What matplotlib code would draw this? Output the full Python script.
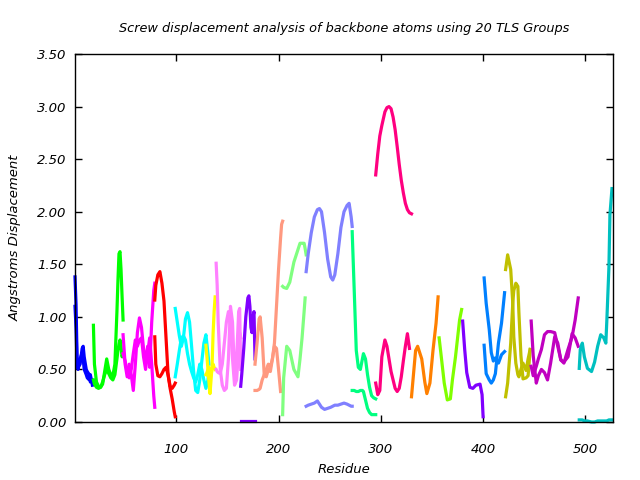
import numpy as np
import matplotlib
matplotlib.use("Agg")
import matplotlib.pyplot as plt

nan = np.nan

# one residue list and two displacement curves per TLS group
g01_res = [1, 2, 3, 4, 6, 8, 9, 10, 12, 13, 15, 16, 18]
g01_val = [[1.38, 1.12, 0.62, 0.52, 0.55, 0.70, 0.72, 0.62, 0.50, 0.48, 0.45, 0.38, 0.40],
           [1.10, 0.90, 0.55, 0.50, 0.60, 0.66, 0.60, 0.50, 0.45, 0.42, 0.40, 0.45, 0.35]]

g02_res = [19, 20, 22, 24, 26, 28, 30, 32, 34, 36, 38, 40, 42, 43, 44, 45, 46, 47, 48]
g02_val = [[0.92, 0.55, 0.38, 0.34, 0.33, 0.36, 0.48, 0.60, 0.50, 0.45, 0.44, 0.55, 1.05, 1.35, 1.60, 1.62, 1.45, 1.20, 0.97],
           [0.40, 0.36, 0.33, 0.32, 0.33, 0.38, 0.45, 0.50, 0.46, 0.42, 0.40, 0.45, 0.60, 0.68, 0.74, 0.78, 0.72, 0.62, 0.65]]

g03_res = [48, 50, 52, 54, 56, 58, 60, 62, 64, 66, 68, 70, 72, 74, 76, 77, 78, 79]
g03_val = [[0.83, 0.55, 0.43, 0.55, 0.45, 0.30, 0.55, 0.85, 0.99, 0.90, 0.70, 0.56, 0.72, 0.52, 0.95, 1.10, 1.25, 1.32],
           [0.65, 0.58, 0.48, 0.42, 0.50, 0.65, 0.78, 0.72, 0.78, 0.80, 0.62, 0.50, 0.65, 0.80, 0.55, 0.40, 0.25, 0.14]]

g04_res = [79, 80, 82, 84, 86, 88, 90, 92, 94, 96, 98, 99]
g04_val = [[1.16, 1.30, 1.40, 1.43, 1.32, 1.15, 0.80, 0.45, 0.32, 0.22, 0.10, 0.05],
           [0.81, 0.55, 0.44, 0.43, 0.46, 0.50, 0.52, 0.45, 0.34, 0.32, 0.35, 0.37]]

g05_res = [99, 101, 103, 105, 107, 109, 111, 113, 115, 117, 119, 121, 123, 125, 127, 129, 131, 132]
g05_val = [[1.08, 0.95, 0.82, 0.72, 0.80, 0.98, 1.04, 0.95, 0.72, 0.48, 0.30, 0.28, 0.40, 0.58, 0.75, 0.83, 0.65, 0.55],
           [0.43, 0.55, 0.68, 0.80, 0.82, 0.78, 0.65, 0.55, 0.48, 0.42, 0.38, 0.45, 0.55, 0.50, 0.40, 0.32, 0.40, 0.50]]

g06_res = [129, 130, 131, 132, 133, 134, 135, 136, 137, 138]
g06_val = [[0.73, 0.62, 0.50, 0.38, 0.27, 0.40, 0.53, 0.84, 1.05, 1.19],
           [0.45, 0.47, 0.50, 0.52, 0.48, 0.45, 0.50, 0.55, 0.52, 0.50]]

g07_res = [139, 140, 141, 143, 145, 147, 149, 151, 153, 155, 157, 159, 161, 162, 163]
g07_val = [[1.51, 1.30, 0.95, 0.50, 0.35, 0.30, 0.32, 0.60, 1.10, 0.95, 0.45, 0.60, 1.05, 1.08, 0.50],
           [0.50, 0.48, 0.47, 0.46, 0.55, 0.75, 0.95, 1.05, 0.90, 0.60, 0.35, 0.40, 0.70, 0.85, 0.80]]

g08_res = [163, 164, 166, 168, 170, 171, 172, 173, 174, 175, 176, 177]
g08_val = [[0.34, 0.45, 0.70, 1.00, 1.18, 1.20, 1.10, 0.90, 0.85, 1.00, 1.05, 0.60],
           [0.005, 0.005, 0.005, 0.005, 0.005, 0.005, 0.005, 0.005, 0.005, 0.005, 0.005, 0.005]]

g09_res = [177, 179, 181, 182, 184, 186, 188, 190, 192, 194, 196, 198, 200, 202, 203, 204]
g09_val = [[0.55, 0.75, 0.98, 1.00, 0.80, 0.45, 0.43, 0.50, 0.48, 0.60, 0.72, 0.70, 0.50, 0.29, nan, nan],
           [0.30, 0.30, 0.31, 0.32, 0.40, 0.45, 0.50, 0.55, 0.52, 0.60, 0.75, 1.10, 1.45, 1.75, 1.88, 1.91]]

g10_res = [204, 205, 208, 211, 215, 219, 221, 223, 225, 226, 227]
g10_val = [[0.07, 0.42, 0.72, 0.68, 0.50, 0.43, 0.60, 0.80, 1.05, 1.18, nan],
           [1.29, 1.28, 1.27, 1.33, 1.52, 1.64, 1.70, 1.70, 1.70, 1.65, 1.59]]

g11_res = [227, 229, 232, 235, 238, 240, 242, 245, 248, 251, 253, 255, 258, 261, 264, 267, 269, 271, 272]
g11_val = [[1.43, 1.60, 1.80, 1.95, 2.02, 2.03, 2.00, 1.80, 1.55, 1.38, 1.35, 1.40, 1.60, 1.85, 2.00, 2.06, 2.08, 1.95, 1.86],
           [0.15, 0.16, 0.17, 0.18, 0.20, 0.17, 0.14, 0.12, 0.13, 0.14, 0.15, 0.16, 0.16, 0.17, 0.18, 0.17, 0.16, 0.15, 0.15]]

g12_res = [272, 274, 276, 278, 280, 282, 283, 285, 287, 289, 291, 293, 295]
g12_val = [[1.81, 1.25, 0.68, 0.52, 0.50, 0.60, 0.65, 0.60, 0.45, 0.33, 0.25, 0.23, 0.22],
           [0.30, 0.30, 0.29, 0.29, 0.30, 0.30, 0.29, 0.21, 0.13, 0.09, 0.07, 0.07, 0.07]]

g13_res = [295, 297, 299, 301, 304, 306, 308, 310, 312, 314, 316, 318, 320, 322, 324, 326, 328, 330]
g13_val = [[2.35, 2.55, 2.72, 2.82, 2.95, 2.99, 3.00, 2.98, 2.90, 2.78, 2.62, 2.45, 2.30, 2.18, 2.08, 2.02, 1.99, 1.98],
           [0.37, 0.26, 0.30, 0.62, 0.78, 0.72, 0.60, 0.48, 0.40, 0.32, 0.29, 0.32, 0.43, 0.58, 0.72, 0.84, 0.70, nan]]

g14_res = [330, 332, 334, 336, 340, 343, 345, 348, 351, 354, 356]
g14_val = [[0.24, 0.46, 0.68, 0.72, 0.60, 0.38, 0.27, 0.37, 0.68, 0.94, 1.19]]

g15_res = [357, 359, 362, 365, 368, 370, 373, 377, 379]
g15_val = [[0.80, 0.63, 0.37, 0.21, 0.22, 0.40, 0.62, 0.97, 1.07]]

g16_res = [380, 382, 384, 387, 390, 393, 397, 399, 400]
g16_val = [[0.96, 0.69, 0.47, 0.33, 0.32, 0.35, 0.36, 0.26, 0.05]]

g17_res = [401, 403, 406, 408, 410, 412, 415, 418, 421]
g17_val = [[1.37, 1.13, 0.88, 0.66, 0.58, 0.61, 0.56, 0.64, 0.67],
           [0.73, 0.46, 0.40, 0.37, 0.40, 0.46, 0.75, 0.94, 1.23]]

g18_res = [422, 424, 427, 429, 430, 432, 434, 435, 437, 439, 442, 444, 446]
g18_val = [[1.45, 1.59, 1.45, 1.13, 0.81, 0.56, 0.45, 0.43, 0.50, 0.56, 0.49, 0.60, 0.69],
           [0.24, 0.37, 0.75, 1.13, 1.25, 1.32, 1.29, 1.04, 0.63, 0.41, 0.42, 0.44, 0.69]]

g19_res = [447, 449, 452, 454, 457, 460, 463, 466, 470, 473, 476, 479, 483, 487, 490, 493]
g19_val = [[0.96, 0.63, 0.37, 0.44, 0.50, 0.47, 0.40, 0.56, 0.81, 0.75, 0.59, 0.56, 0.69, 0.81, 0.97, 1.18],
           [0.53, 0.44, 0.53, 0.60, 0.69, 0.83, 0.86, 0.86, 0.85, 0.72, 0.59, 0.57, 0.62, 0.84, 0.80, 0.72]]

g20_res = [494, 495, 497, 499, 502, 506, 509, 512, 515, 518, 520, 521, 523, 524, 526]
g20_val = [[0.51, 0.69, 0.75, 0.62, 0.51, 0.48, 0.57, 0.72, 0.83, 0.80, 0.75, 0.97, 1.47, 1.97, 2.22],
           [0.02, 0.02, 0.02, 0.01, 0.01, 0.00, 0.00, 0.01, 0.01, 0.01, 0.01, 0.01, 0.02, 0.02, 0.02]]

colors = ['#0000ff', '#00ff00', '#ff00ff', '#ff0000', '#00ffff', '#ffff00', '#ff80ff',
          '#8000ff', '#ff9980', '#80ff80', '#8080ff', '#00ff80', '#ff0080', '#ff8000',
          '#80ff00', '#8000ff', '#0080ff', '#c0c000', '#c000c0', '#00c0c0']

groups = [(g01_res, g01_val), (g02_res, g02_val), (g03_res, g03_val), (g04_res, g04_val),
          (g05_res, g05_val), (g06_res, g06_val), (g07_res, g07_val), (g08_res, g08_val),
          (g09_res, g09_val), (g10_res, g10_val), (g11_res, g11_val), (g12_res, g12_val),
          (g13_res, g13_val), (g14_res, g14_val), (g15_res, g15_val), (g16_res, g16_val),
          (g17_res, g17_val), (g18_res, g18_val), (g19_res, g19_val), (g20_res, g20_val)]

plt.rcParams['font.family'] = 'DejaVu Sans'
plt.rcParams['font.style'] = 'italic'

fig = plt.figure(figsize=(6.4, 4.8), dpi=100)
ax = fig.add_axes([75/640, 58/480, 538/640, 368/480])

for (res, vals), col in zip(groups, colors):
    for v in vals:
        ax.plot(res, v, color=col, lw=2.3, clip_on=False)

ax.set_xlim(1, 527)
ax.set_ylim(0, 3.5)
ax.set_xticks([100, 200, 300, 400, 500])
ax.set_yticks(np.arange(0, 3.51, 0.5))
ax.set_yticklabels(['%.2f' % t for t in np.arange(0, 3.51, 0.5)])
ax.tick_params(direction='in', length=5, width=1, top=True, right=True, labelsize=9.5)
ax.tick_params(axis='x', pad=15)
ax.tick_params(axis='y', pad=6)
for s in ax.spines.values():
    s.set_linewidth(1)

ax.set_title('Screw displacement analysis of backbone atoms using 20 TLS Groups',
             fontsize=9.3, pad=16)
ax.set_xlabel('Residue', fontsize=9.5, labelpad=5)
ax.set_ylabel('Angstroms Displacement', fontsize=9.5, labelpad=11)

fig.savefig('out.png', dpi=100)
